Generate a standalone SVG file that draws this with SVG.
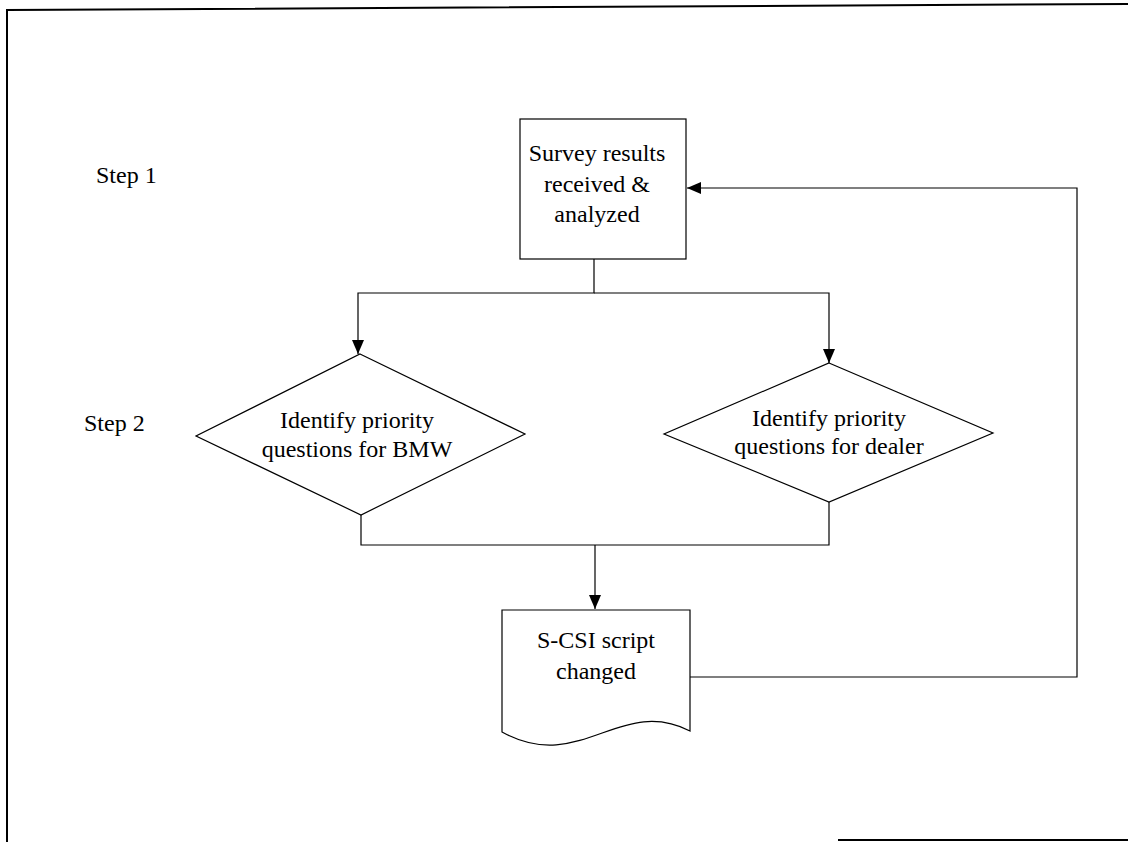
<svg xmlns="http://www.w3.org/2000/svg" width="1128" height="842" viewBox="0 0 1128 842">
  <style>
    .shape { fill: #ffffff; stroke: #000000; stroke-width: 1.2; }
    .wire { fill: none; stroke: #000000; stroke-width: 1.2; }
    .frame { fill: none; stroke: #000000; stroke-width: 2; }
    text { font-family: "Liberation Serif", "Times New Roman", serif; font-size: 24px; fill: #000000; }
    .c { text-anchor: middle; }
  </style>
  <defs>
    <marker id="arrow" viewBox="0 0 14 12" refX="14" refY="6" markerWidth="14" markerHeight="12" markerUnits="userSpaceOnUse" orient="auto">
      <path d="M0,0 L14,6 L0,12 Z" fill="#000000"/>
    </marker>
  </defs>

  <rect width="1128" height="842" fill="#ffffff"/>

  <!-- page border -->
  <g id="border">
    <polyline class="frame" points="7,842 7,10 1128,4"/>
    <line class="frame" x1="838" y1="840" x2="1128" y2="840"/>
  </g>

  <!-- step labels -->
  <g id="labels">
    <text x="96" y="183">Step 1</text>
    <text x="84" y="431">Step 2</text>
  </g>

  <!-- connectors -->
  <g id="connectors">
    <path class="wire" d="M594,259 V293 H358 V354" marker-end="url(#arrow)"/>
    <path class="wire" d="M594,293 H829 V363" marker-end="url(#arrow)"/>
    <path class="wire" d="M361,515 V545 H829 V502"/>
    <path class="wire" d="M595,545 V609" marker-end="url(#arrow)"/>
    <path class="wire" d="M690,677 H1077 V188 H687" marker-end="url(#arrow)"/>
  </g>

  <g id="survey">
    <rect class="shape" x="520" y="119" width="166" height="140"/>
    <text class="c" x="597" y="161">Survey results</text>
    <text class="c" x="597" y="192">received &amp;</text>
    <text class="c" x="597" y="222">analyzed</text>
  </g>

  <g id="bmw">
    <polygon class="shape" points="360,354 525,434 361,515 196,436"/>
    <text class="c" x="357" y="428">Identify priority</text>
    <text class="c" x="357" y="457">questions for BMW</text>
  </g>

  <g id="dealer">
    <polygon class="shape" points="829,363 993,433 829,502 664,434"/>
    <text class="c" x="829" y="426">Identify priority</text>
    <text class="c" x="829" y="454">questions for dealer</text>
  </g>

  <g id="script">
    <path class="shape" d="M502,610 H690 V731 C620,695 580,775 502,732 Z"/>
    <text class="c" x="596" y="648">S-CSI script</text>
    <text class="c" x="596" y="679">changed</text>
  </g>
</svg>
